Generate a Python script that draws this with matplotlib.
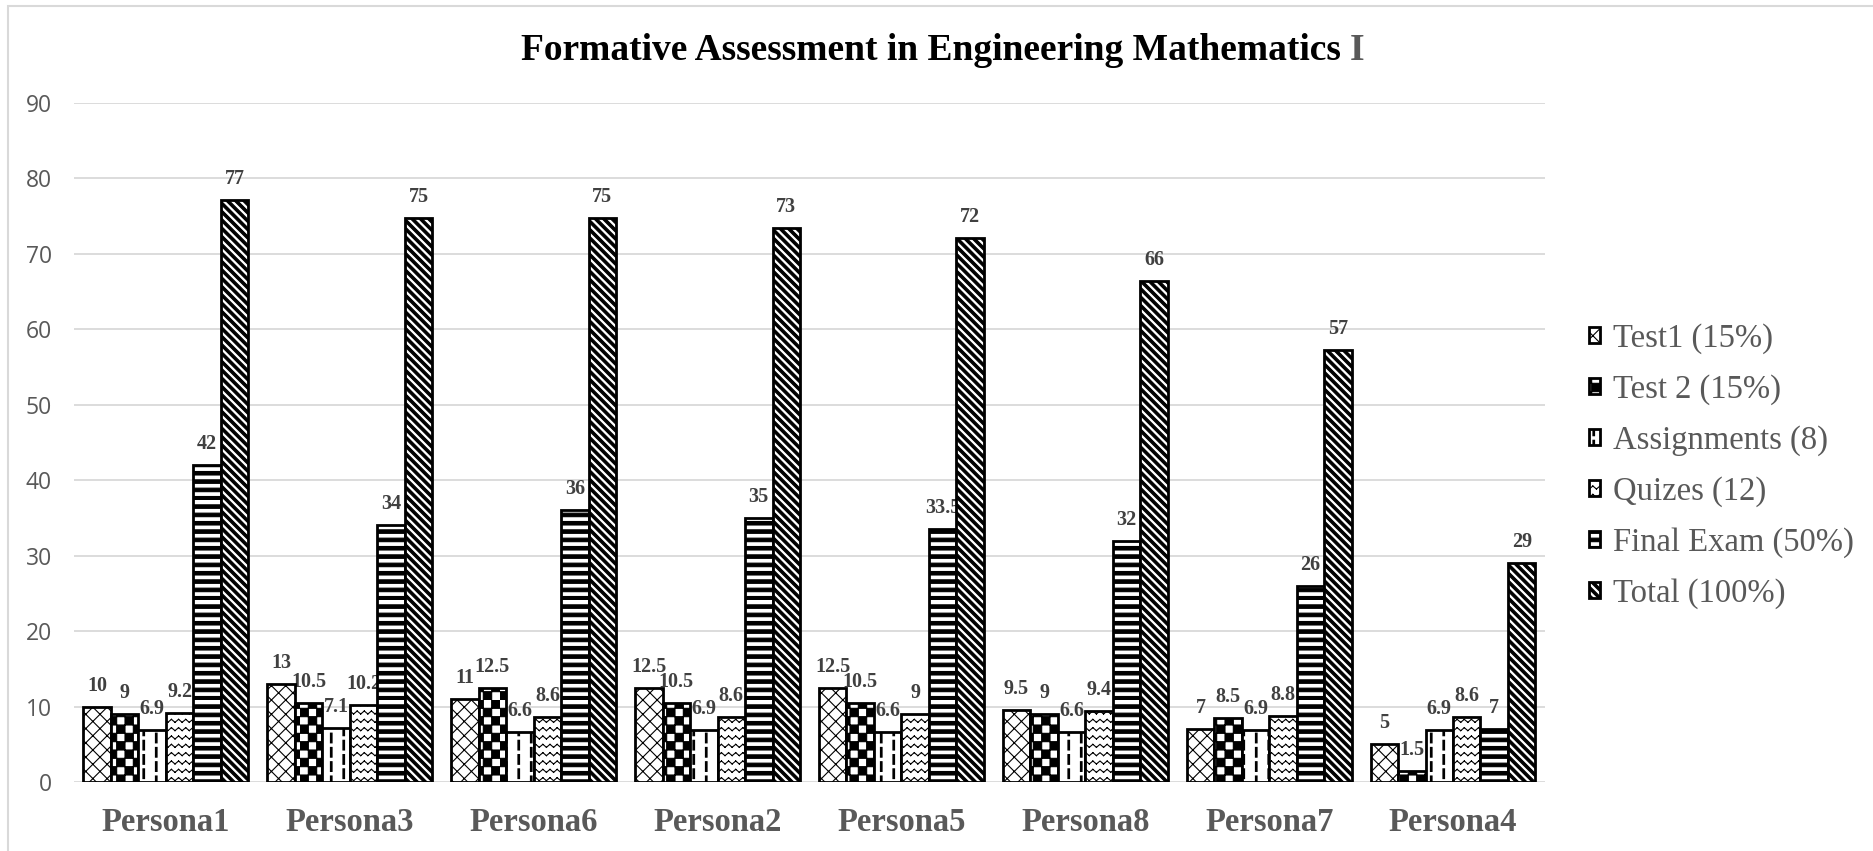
import numpy as np
import matplotlib
matplotlib.use('Agg')
import matplotlib.pyplot as plt
import matplotlib.hatch as mhatch
from matplotlib.path import Path
from matplotlib.patches import Rectangle

categories = ['Persona1', 'Persona3', 'Persona6', 'Persona2',
              'Persona5', 'Persona8', 'Persona7', 'Persona4']
series_names = ['Test1 (15%)', 'Test 2 (15%)', 'Assignments (8)',
                'Quizes (12)', 'Final Exam (50%)', 'Total (100%)']
test1 = [10, 13, 11, 12.5, 12.5, 9.5, 7, 5]
test2 = [9, 10.5, 12.5, 10.5, 10.5, 9, 8.5, 1.5]
assignments = [6.9, 7.1, 6.6, 6.9, 6.6, 6.6, 6.9, 6.9]
quizes = [9.2, 10.2, 8.6, 8.6, 9, 9.4, 8.8, 8.6]
final_exam = [42, 34, 36, 35, 33.5, 32, 26, 7]
total = [77.1, 74.8, 74.7, 73.4, 72.1, 66.4, 57.2, 29]
yticks = [0, 10, 20, 30, 40, 50, 60, 70, 80, 90]


# --- custom hatch patterns (unit tile = 1 inch) ---
def make_hatch(char, shapes, closed):
    verts, codes = [], []
    for s in shapes:
        verts += list(s)
        codes += [Path.MOVETO] + [Path.LINETO] * (len(s) - 1)
        if closed:
            verts.append(s[0])
            codes.append(Path.CLOSEPOLY)
    verts = np.array(verts, float)
    codes = np.array(codes, dtype=Path.code_type)

    class ShapeHatch(mhatch.HatchPatternBase):
        def __init__(self, hatch, density):
            self.num_vertices = len(verts) if char in hatch else 0

        def set_vertices_and_codes(self, vertices, codes_out):
            vertices[:] = verts
            codes_out[:] = codes
    return ShapeHatch


def checker(n=12):
    s = 1 / n
    return [[(i * s, j * s), ((i + 1) * s, j * s), ((i + 1) * s, (j + 1) * s), (i * s, (j + 1) * s)]
            for i in range(n) for j in range(n) if (i + j) % 2 == 0]


def hstripes(n=12, frac=0.42):
    return [[(-0.05, k / n), (1.05, k / n), (1.05, (k + frac) / n), (-0.05, (k + frac) / n)]
            for k in range(n)]


def dstripes(n=12, frac=0.42):
    w = frac / n
    return [[(k / n, 0), (k / n + w, 0), (k / n + w - 1, 1), (k / n - 1, 1)]
            for k in range(-1, 2 * n + 2)]


def dashes(cols=8, m=7, frac=0.68, width=0.016):
    out = []
    for i in range(cols):
        x = (i + 0.5) / cols
        off = 0.5 if i % 2 else 0.0
        for j in range(-1, m + 1):
            y0 = (j + off) / m
            y1 = y0 + frac / m
            out.append([(x - width / 2, y0), (x + width / 2, y0), (x + width / 2, y1), (x - width / 2, y1)])
    return out


def zigzag(rows=12, peaks=14, amp=0.03):
    out = []
    for r in range(rows):
        yc = (r + 0.5) / rows
        for k in range(2 * peaks):
            ya = yc + (amp / 2 if k % 2 == 0 else -amp / 2)
            yb = yc + (-amp / 2 if k % 2 == 0 else amp / 2)
            out.append([(k / (2 * peaks), ya), ((k + 1) / (2 * peaks), yb)])
    return out


def lattice(n=7):
    out = []
    for k in range(-n - 1, 2 * n + 2):
        c = k / n
        out.append([(c, 0), (c - 1, 1)])
        out.append([(c, 0), (c + 1, 1)])
    return out


mhatch._hatch_types[:] = [
    make_hatch('.', lattice(), False),
    make_hatch('*', checker(), True),
    make_hatch('|', dashes(), True),
    make_hatch('o', zigzag(), False),
    make_hatch('-', hstripes(), True),
    make_hatch('+', dstripes(), True),
]
hatches = ['.', '*', '|', 'o', '-', '+']

plt.rcParams['hatch.linewidth'] = 0.8
plt.rcParams['font.family'] = ['Liberation Serif', 'DejaVu Serif']

data = [test1, test2, assignments, quizes, final_exam, total]

fig = plt.figure(figsize=(18.74, 8.51), dpi=100)
ax = fig.add_axes([0.0395, 0.0811, 0.7849, 0.7979])

x = np.arange(len(categories))
w = 0.1495
for i, (vals, name) in enumerate(zip(data, series_names)):
    pos = x + (i - 2.5) * w
    ax.bar(pos, vals, w, label=name, color='white', edgecolor='black',
           linewidth=2, hatch=hatches[i], zorder=3)
    for px, v in zip(pos, vals):
        txt = '{:.0f}'.format(v) if i == 5 else '{:g}'.format(v)
        ax.annotate(txt, xy=(px, v), xytext=(0, 11.5), textcoords='offset points',
                    ha='center', va='baseline', fontsize=14.5, fontweight='bold',
                    color='#404040', zorder=2)

ax.set_xlim(-0.5, len(categories) - 0.5)
ax.set_ylim(0, 90)
ax.set_yticks(yticks)
ax.set_xticks(x)
ax.set_xticklabels(categories, fontsize=23.5, fontweight='bold', color='#595959')
for lab in ax.get_yticklabels():
    lab.set_fontfamily(['Open Sans', 'DejaVu Sans'])
    lab.set_fontsize(16.5)
    lab.set_color('#595959')
ax.tick_params(axis='y', length=0, pad=16)
ax.tick_params(axis='x', length=0, pad=18)
ax.grid(axis='y', color='#d9d9d9', linewidth=1.3)
ax.set_axisbelow(True)
for sp in ax.spines.values():
    sp.set_visible(False)

t = fig.text(0.278, 0.9295, 'Formative Assessment in Engineering Mathematics ',
             fontsize=27, fontweight='bold', color='black', ha='left', va='baseline')
t2 = fig.text(0.278, 0.9295, 'I', fontsize=27, fontweight='bold', color='#595959',
              ha='left', va='baseline')
fig.canvas.draw()
bb = t.get_window_extent().transformed(fig.transFigure.inverted())
t2.set_x(bb.x1)

leg = fig.legend(loc='center left', bbox_to_anchor=(0.839, 0.4524), frameon=False,
                 fontsize=23.5, handlelength=0.36, handleheight=0.36,
                 handletextpad=0.4, labelspacing=0.62, borderpad=0)
for txt in leg.get_texts():
    txt.set_color('#595959')

fig.patches.append(Rectangle((8 / 1874, -0.5), 2, 0.99295 + 0.5, transform=fig.transFigure,
                             fill=False, edgecolor='#d9d9d9', linewidth=1.5))

fig.savefig('out.png', dpi=100)
